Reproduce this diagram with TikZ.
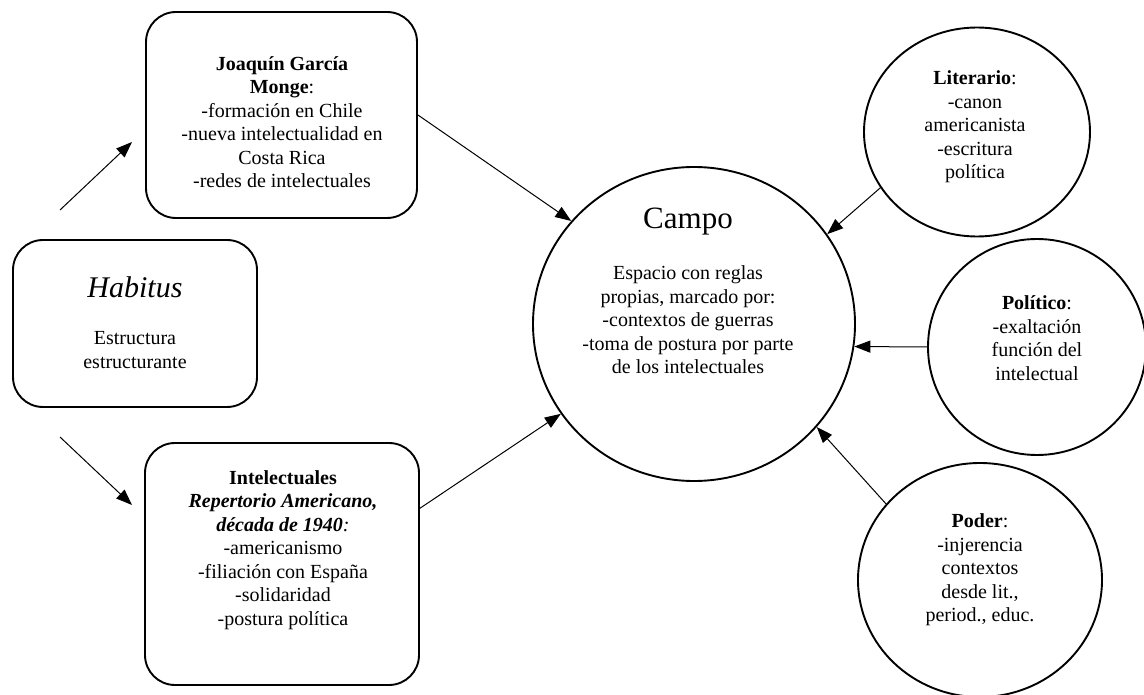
\documentclass[tikz,border=0pt]{standalone}
\usepackage{fontspec}
\setmainfont{Liberation Serif}
\usetikzlibrary{shapes.geometric,arrows.meta}
\begin{document}
\begin{tikzpicture}[x=1pt,y=-1pt,
  rbox/.style={draw,line width=1.9pt,rounded corners=30pt,rectangle,inner sep=0pt},
  oval/.style={draw,line width=1.9pt,ellipse,inner sep=0pt},
  txt/.style={align=center,inner sep=0pt,font=\fontsize{20}{23.5}\selectfont},
  arr/.style={line width=1pt,-{Triangle[length=16pt,width=12pt]}}]
\useasboundingbox (0,0) rectangle (1144,695);
% boxes
\node[rbox,minimum width=271pt,minimum height=206pt] (joaq) at (281.5,115) {};
\node[rbox,minimum width=244pt,minimum height=167pt] (hab) at (135,323.5) {};
\node[rbox,minimum width=274pt,minimum height=242pt] (intel) at (282,564) {};
% circles
\node[oval,minimum width=322pt,minimum height=314pt] (campo) at (694,324) {};
\node[oval,minimum width=226pt,minimum height=209pt] (lit) at (977,132) {};
\node[oval,minimum width=218pt,minimum height=216pt] (pol) at (1037,347) {};
\node[oval,minimum width=244pt,minimum height=234pt] (poder) at (980,580) {};
% texts
\node[txt] (joaqt) at (282,122) {\textbf{Joaquín García}\\ \textbf{Monge}:\\ -formación en Chile\\ -nueva intelectualidad en\\ Costa Rica\\ -redes de intelectuales};
\node[txt,font=\fontsize{30}{34}\selectfont] (habt) at (135,287) {\textit{Habitus}};
\node[txt] (habs) at (135,350) {Estructura\\ estructurante};
\node[txt] (intelt) at (283,550) {\textbf{Intelectuales}\\ \textbf{\textit{Repertorio Americano,}}\\ \textbf{\textit{década de 1940}}\textit{:}\\ -americanismo\\ -filiación con España\\ -solidaridad\\ -postura política};
\node[txt,font=\fontsize{31}{35}\selectfont] (campot) at (688,222) {Campo};
\node[txt] (campos) at (688,320) {Espacio con reglas\\ propias, marcado por:\\ -contextos de guerras\\ -toma de postura por parte\\ de los intelectuales};
\node[txt] (litt) at (975,127) {\textbf{Literario}:\\ -canon\\ americanista\\ -escritura\\ política};
\node[txt] (polt) at (1037,338) {\textbf{Político}:\\ -exaltación\\ función del\\ intelectual};
\node[txt] (podert) at (980,570) {\textbf{Poder}:\\ -injerencia\\ contextos\\ desde lit.,\\ period., educ.};
% free ends
\coordinate (h1s) at (60,210);
\coordinate (h1e) at (132,142);
\coordinate (h2s) at (60,437);
\coordinate (h2e) at (132,505);
% connectors
\draw[arr] (h1s) -- (h1e);
\draw[arr] (h2s) -- (h2e);
\draw[arr] (joaq.east) -- (campo.140);
\draw[arr] (intel.22) -- (campo.214.5);
\draw[arr] (lit.210.5) -- (campo.34.7);
\draw[arr] (pol.west) -- (campo.-8);
\draw[arr] (poder.141.2) -- (campo.-40.7);
\end{tikzpicture}
\end{document}
